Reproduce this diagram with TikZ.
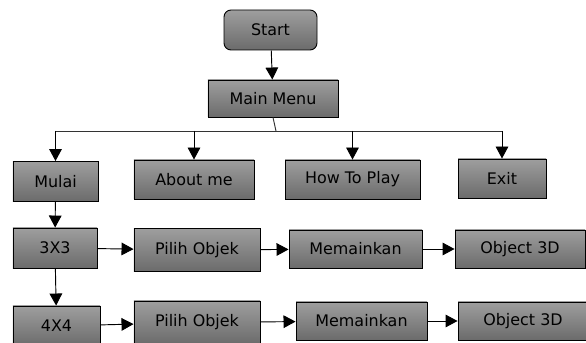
\documentclass[tikz,border=0pt]{standalone}
\usepackage{fontspec}
\setmainfont{DejaVu Sans}
\usetikzlibrary{arrows.meta}
\begin{document}
\begin{tikzpicture}[x=0.03cm,y=-0.03cm]
            \tikzset{
                menubox/.style={draw, line width=0.8pt, top color=black!38, bottom color=black!58,
                    inner sep=0pt, font=\fontsize{13.6}{15}\selectfont},
                arr/.style={line width=0.8pt, -{Triangle[length=0.36cm,width=0.38cm]}},}
            \useasboundingbox (0,0) rectangle (586,343);
            \clip (0,0) rectangle (586,343);
            \node [menubox, rounded corners=6pt, minimum width=2.79cm, minimum height=1.2cm] (start) at (270.5,30) {Start};
            \node [menubox, minimum width=3.9cm, minimum height=1.11cm] (menu) at (273,98.5) {Main Menu};
            \node [menubox, minimum width=2.55cm, minimum height=1.2cm] (mulai) at (55.5,181.5) {Mulai};
            \node [menubox, minimum width=3.6cm, minimum height=1.17cm] (about) at (194,179.5) {About me};
            \node [menubox, minimum width=4.05cm, minimum height=1.17cm] (howto) at (352.5,179.5) {How To Play};
            \node [menubox, minimum width=2.64cm, minimum height=1.17cm] (exit) at (502,178.5) {Exit};
            \node [menubox, minimum width=2.52cm, minimum height=1.2cm] (tiga) at (55,248) {3X3};
            \node [menubox, minimum width=3.78cm, minimum height=1.29cm] (pilihA) at (197,250) {Pilih Objek};
            \node [menubox, minimum width=3.99cm, minimum height=1.14cm] (mainA) at (355.5,249) {Memainkan};
            \node [menubox, minimum width=3.9cm, minimum height=1.14cm] (objA) at (520,249) {Object 3D};
            \node [menubox, minimum width=2.61cm, minimum height=1.2cm] (empat) at (56.5,326) {4X4};
            \node [menubox, minimum width=3.78cm, minimum height=1.29cm] (pilihB) at (197,322.5) {Pilih Objek};
            \node [menubox, minimum width=3.93cm, minimum height=1.14cm] (mainB) at (361.5,321) {Memainkan};
            \node [menubox, minimum width=3.9cm, minimum height=1.14cm] (objB) at (523,321) {Object 3D};
            \coordinate (bus) at (276,131);
            \draw [arr] (start) -- (menu);
            \draw [line width=0.8pt, black!80] (menu.south) -- (bus);
            \draw [line width=0.8pt, black!80] (bus -| mulai) -- (bus -| exit);
            \draw [arr] (bus -| mulai) -- (mulai);
            \draw [arr] (bus -| about) -- (about);
            \draw [arr] (bus -| howto) -- (howto);
            \draw [arr] (bus -| exit) -- (exit);
            \draw [arr] (mulai) -- (tiga);
            \draw [arr] (tiga) -- (empat);
            \draw [arr] (tiga) -- (pilihA);
            \draw [arr] (pilihA) -- (mainA);
            \draw [arr] (mainA) -- (objA);
            \draw [arr] (empat) -- (pilihB);
            \draw [arr] (pilihB) -- (mainB);
            \draw [arr] (mainB) -- (objB);
        \end{tikzpicture}
\end{document}
